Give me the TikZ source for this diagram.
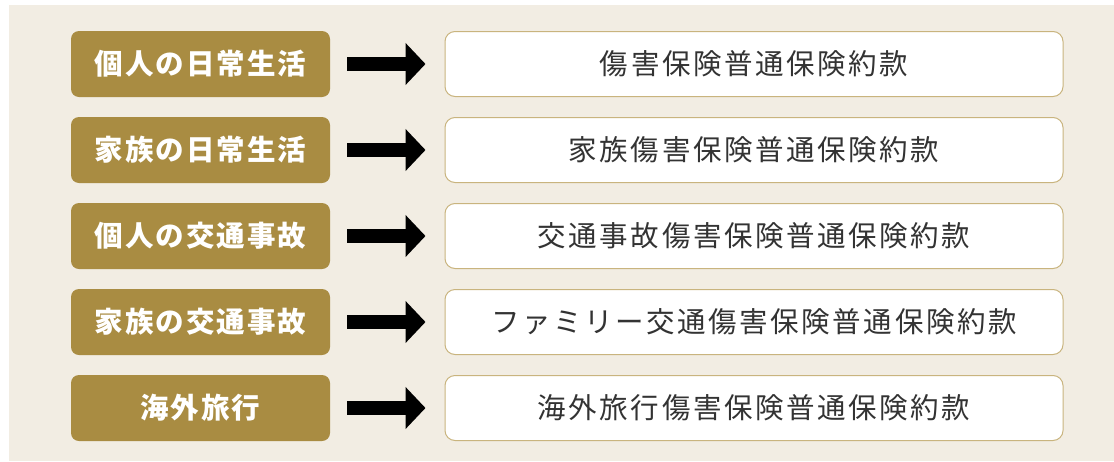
\documentclass[tikz,border=0pt]{standalone}
\usepackage{fontspec}
\setmainfont{Noto Sans CJK JP}
\newfontfamily\lfont[LetterSpace=7]{Noto Sans CJK JP}
\newfontfamily\rfont[LetterSpace=9]{Noto Sans CJK JP}
\usetikzlibrary{arrows.meta}
\definecolor{bgc}{HTML}{F2EDE3}
\definecolor{gold}{HTML}{A98C42}
\definecolor{rim}{HTML}{C9B47E}
\definecolor{txt}{HTML}{333333}
\tikzset{
  catbox/.style={fill=gold, rounded corners=8pt, minimum width=259pt, minimum height=66pt, inner sep=0pt, text=white, font=\lfont\bfseries\fontsize{28.5}{31}\selectfont},
  docbox/.style={fill=white, draw=rim, line width=1pt, rounded corners=10pt, minimum width=618pt, minimum height=65pt, inner sep=0pt, text=txt, font=\rfont\fontsize{28.5}{31}\selectfont},
  bigarrow/.style={draw=black, line width=14pt, -{Triangle[length=20pt,width=41pt]}, shorten <=17pt, shorten >=19pt}
}
\begin{document}
\begin{tikzpicture}[x=1pt,y=-1pt]
\useasboundingbox (0,0) rectangle (1114,461);
\fill[bgc] (9,5) rectangle (1114,461);
\foreach \i/\l/\r in {0/個人の日常生活/傷害保険普通保険約款,
                       1/家族の日常生活/家族傷害保険普通保険約款,
                       2/個人の交通事故/交通事故傷害保険普通保険約款,
                       3/家族の交通事故/ファミリー交通傷害保険普通保険約款,
                       4/海外旅行/海外旅行傷害保険普通保険約款}{
  \node[catbox] (L\i) at (200.5,64+86*\i) {\l};
  \node[docbox] (R\i) at (754,64+86*\i) {\r};
  \draw[bigarrow] (L\i.east) -- (R\i.west);
}
\end{tikzpicture}
\end{document}
